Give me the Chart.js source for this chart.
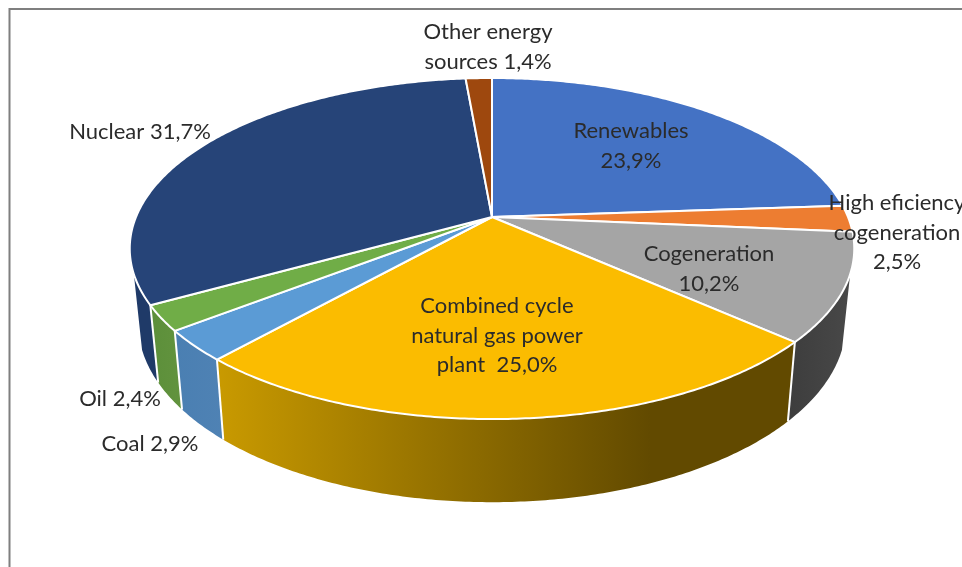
<!DOCTYPE html>
<html>
<head>
  <title>Energy sources</title>
  <script src="https://cdn.jsdelivr.net/npm/chart.js"></script>
  <style>
    html, body { margin: 0; padding: 0; background: #fff; overflow: hidden; }
    canvas { display: block; }
  </style>
</head>
<body>
  <canvas id="energyChart" width="962" height="567"></canvas>

  <script>
    // Chart data
    var categories = ['Renewables', 'High eficiency cogeneration', 'Cogeneration', 'Combined cycle natural gas power plant', 'Coal', 'Oil', 'Nuclear', 'Other energy sources'];
    var shares = [23.9, 2.5, 10.2, 25.0, 2.9, 2.4, 31.7, 1.4];
    var labelLines = [
      ['Renewables', '23,9%'],
      ['High eficiency', 'cogeneration', '2,5%'],
      ['Cogeneration', '10,2%'],
      ['Combined cycle', 'natural gas power', 'plant  25,0%'],
      ['Coal 2,9%'],
      ['Oil 2,4%'],
      ['Nuclear 31,7%'],
      ['Other energy', 'sources 1,4%']
    ];

    // Styles
    var topColors = ['#4472C4', '#ED7D31', '#A5A5A5', '#FBBC00', '#5B9BD5', '#70AD47', '#264478', '#9E480E'];
    var wallStops = [
      null,
      null,
      [[0, '#3d3d3d'], [1, '#484848']],
      [[0, '#C99A00'], [0.75, '#624A00'], [1, '#624A00']],
      [[0, '#4A7FB2'], [1, '#4F82B4']],
      [[0, '#5C8F3A'], [1, '#62933E']],
      [[0, '#1F3A68'], [1, '#1F3A68']],
      null
    ];
    // label centre x, first line y
    var labelAnchors = [[631, 131], [897, 203], [709, 254], [497, 306], [150, 444], [120, 399], [140, 132], [488, 32]];
    var lineStep = 29.5;

    // Perspective of the pie
    var view = {
      cx: 492, cy: 217, a: 356, b: 164.7, k: 0.185,
      wallScaleX: 0.977, wallScaleY: 1.05, wallDrop: 73,
      wallFrom: 109, wallTo: 251
    };

    // angle is the chart.js angle (radians, 0 = 3 o'clock, clockwise)
    function topPoint(angle) {
      var u = Math.cos(angle);
      var v = Math.sin(angle);
      var w = 1 / (1 - view.k * v);
      return { x: view.cx + view.a * u * w, y: view.cy + view.b * v * w };
    }

    function bottomPoint(angle) {
      var p = topPoint(angle);
      return {
        x: view.cx + (p.x - view.cx) * view.wallScaleX,
        y: view.cy + (p.y - view.cy) * view.wallScaleY + view.wallDrop
      };
    }

    function sweep(from, to) {
      var steps = Math.max(2, Math.ceil((to - from) / 0.01));
      var angles = [];
      for (var i = 0; i <= steps; i++) {
        angles.push(from + (to - from) * i / steps);
      }
      return angles;
    }

    var pie3d = {
      id: 'pie3d',
      beforeDatasetDraw: function(chart, args) {
        var ctx = chart.ctx;
        var arcs = args.meta.data;
        var wallStart = (view.wallFrom - 90) * Math.PI / 180;
        var wallEnd = (view.wallTo - 90) * Math.PI / 180;

        ctx.save();
        ctx.lineJoin = 'round';

        // side walls first, the top covers what is behind it
        arcs.forEach(function(arc, i) {
          if (!wallStops[i]) return;
          var from = Math.max(arc.startAngle, wallStart);
          var to = Math.min(arc.endAngle, wallEnd);
          if (to <= from) return;
          var angles = sweep(from, to);
          var top = angles.map(topPoint);
          var bottom = angles.map(bottomPoint);
          var xs = top.concat(bottom).map(function(p) { return p.x; });
          var grad = ctx.createLinearGradient(Math.min.apply(null, xs), 0, Math.max.apply(null, xs), 0);
          wallStops[i].forEach(function(s) { grad.addColorStop(s[0], s[1]); });

          ctx.beginPath();
          top.forEach(function(p, j) { j ? ctx.lineTo(p.x, p.y) : ctx.moveTo(p.x, p.y); });
          bottom.reverse().forEach(function(p) { ctx.lineTo(p.x, p.y); });
          ctx.closePath();
          ctx.fillStyle = grad;
          ctx.fill();
        });

        // white seams between walls
        ctx.strokeStyle = '#fff';
        ctx.lineWidth = 2;
        arcs.forEach(function(arc) {
          if (arc.startAngle < wallStart || arc.startAngle > wallEnd) return;
          var a = topPoint(arc.startAngle);
          var b = bottomPoint(arc.startAngle);
          ctx.beginPath();
          ctx.moveTo(a.x, a.y);
          ctx.lineTo(b.x, b.y);
          ctx.stroke();
        });

        // top of the pie
        arcs.forEach(function(arc, i) {
          ctx.beginPath();
          ctx.moveTo(view.cx, view.cy);
          sweep(arc.startAngle, arc.endAngle).forEach(function(angle) {
            var p = topPoint(angle);
            ctx.lineTo(p.x, p.y);
          });
          ctx.closePath();
          ctx.fillStyle = topColors[i];
          ctx.fill();
          ctx.stroke();
        });
        ctx.restore();
        return false;
      },
      afterDraw: function(chart) {
        var ctx = chart.ctx;
        ctx.save();
        // outer frame
        ctx.strokeStyle = '#7F7F7F';
        ctx.lineWidth = 2;
        ctx.beginPath();
        ctx.moveTo(9.5, 567);
        ctx.lineTo(9.5, 9);
        ctx.lineTo(962, 9);
        ctx.stroke();

        // data labels
        ctx.font = '22px Lato, Carlito, sans-serif';
        ctx.fillStyle = '#2b2b2b';
        ctx.textAlign = 'center';
        ctx.textBaseline = 'middle';
        labelLines.forEach(function(lines, i) {
          lines.forEach(function(line, j) {
            ctx.fillText(line, labelAnchors[i][0], labelAnchors[i][1] + j * lineStep);
          });
        });
        ctx.restore();
      }
    };

    var ctx = document.getElementById('energyChart').getContext('2d');
    var chart = new Chart(ctx, {
      type: 'pie',
      data: {
        labels: categories,
        datasets: [{ data: shares, backgroundColor: topColors }]
      },
      options: {
        responsive: false,
        animation: false,
        plugins: {
          legend: { display: false },
          tooltip: { enabled: false }
        }
      },
      plugins: [pie3d]
    });
  </script>
</body>
</html>
